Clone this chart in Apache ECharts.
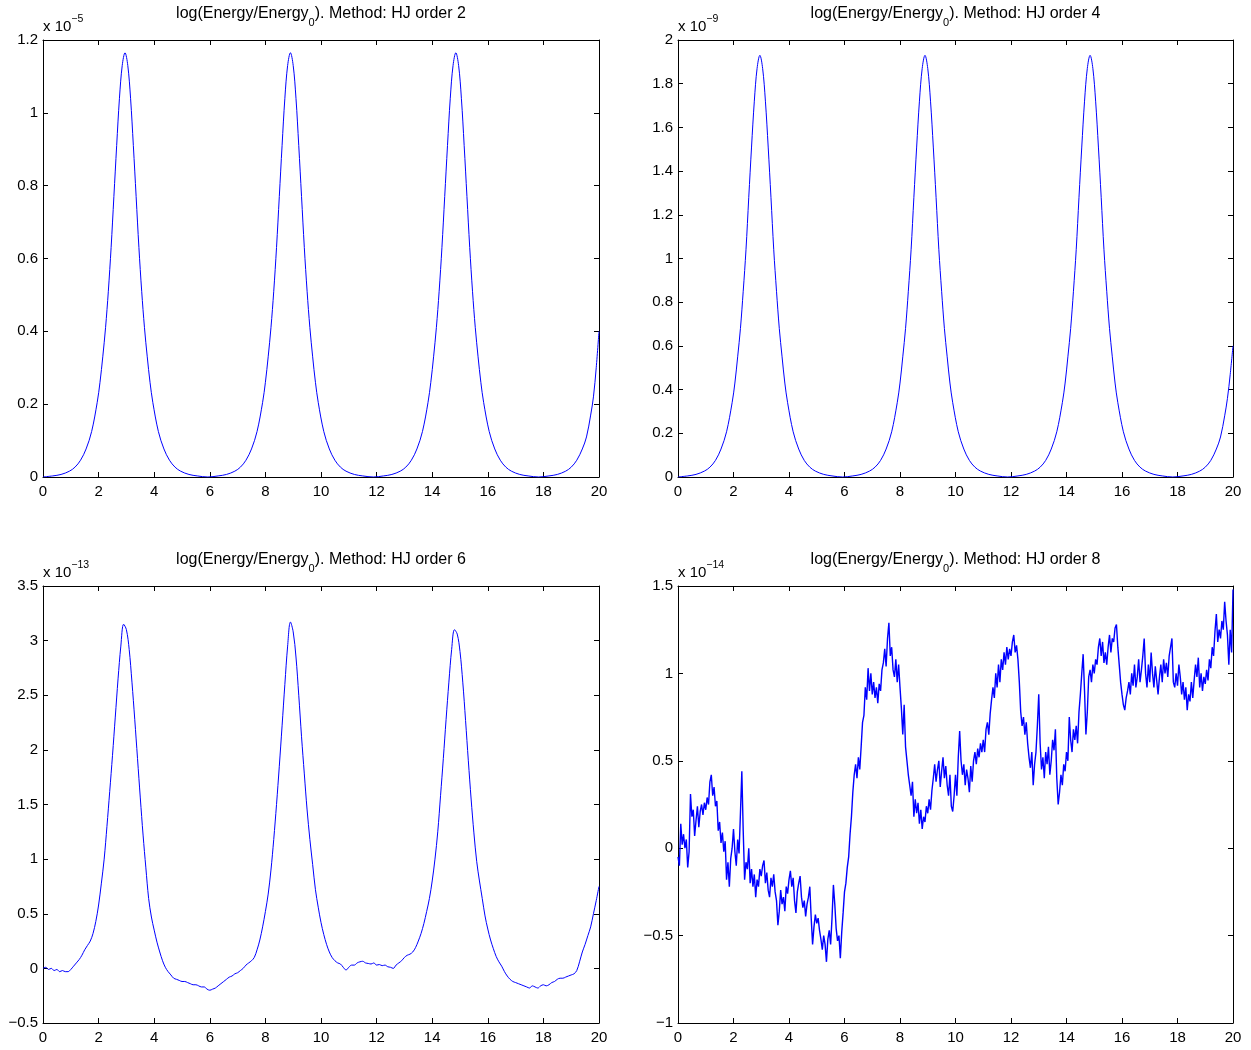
<!DOCTYPE html>
<html><head><meta charset="utf-8">
<script src="https://cdn.jsdelivr.net/npm/echarts@6/dist/echarts.min.js"></script>
<style>html,body{margin:0;padding:0;background:#fff}#c{width:1251px;height:1050px}</style>
</head><body><div id="c"></div>
<script>
// ---------------- DATA ----------------
const methods = ['HJ order 2', 'HJ order 4', 'HJ order 6', 'HJ order 8'];
const exponents = ['\u22125', '\u22129', '\u221213', '\u221214'];
const xRange = [0, 20, 2];
const yRanges = [[0, 1.2, 0.2], [0, 2, 0.2], [-0.5, 3.5, 0.5], [-1, 1.5, 0.5]];

// sample positions for the order-2 and order-4 curves
const peakX = [
  0, 0.35, 0.65, 0.95, 1.15, 1.35, 1.55, 1.75, 1.95, 2.05, 2.15, 2.25, 2.35, 2.45, 2.55, 2.65, 2.75, 2.85, 2.95,
  3.05, 3.15, 3.25, 3.35, 3.45, 3.55, 3.65, 3.75, 3.85, 3.95, 4.15, 4.35, 4.55, 4.75, 4.95, 5.25, 5.55, 5.93,
  6.3, 6.6, 6.9, 7.1, 7.3, 7.5, 7.7, 7.9, 8.0, 8.1, 8.2, 8.3, 8.4, 8.5, 8.6, 8.7, 8.8, 8.9,
  9.0, 9.1, 9.2, 9.3, 9.4, 9.5, 9.6, 9.7, 9.8, 9.9, 10.1, 10.3, 10.5, 10.7, 10.9, 11.2, 11.5, 11.88,
  12.25, 12.55, 12.85, 13.05, 13.25, 13.45, 13.65, 13.85, 13.95, 14.05, 14.15, 14.25, 14.35, 14.45, 14.55, 14.65, 14.75, 14.85,
  14.95, 15.05, 15.15, 15.25, 15.35, 15.45, 15.55, 15.65, 15.75, 15.85, 16.05, 16.25, 16.45, 16.65, 16.85, 17.15, 17.45, 17.83,
  18.2, 18.5, 18.8, 19.0, 19.2, 19.4, 19.55, 19.7, 19.8, 19.9, 20
];
// order 2, units of 1e-5
const order2Y = [
  0, 0.003, 0.007, 0.016, 0.027, 0.046, 0.077, 0.125, 0.205, 0.26, 0.33, 0.41, 0.51, 0.63, 0.77, 0.91, 1.04, 1.13, 1.165,
  1.13, 1.04, 0.91, 0.77, 0.63, 0.51, 0.41, 0.33, 0.26, 0.205, 0.125, 0.077, 0.046, 0.027, 0.016, 0.007, 0.003, 0,
  0.003, 0.007, 0.016, 0.027, 0.046, 0.077, 0.125, 0.205, 0.26, 0.33, 0.41, 0.51, 0.63, 0.77, 0.91, 1.04, 1.13, 1.165,
  1.13, 1.04, 0.91, 0.77, 0.63, 0.51, 0.41, 0.33, 0.26, 0.205, 0.125, 0.077, 0.046, 0.027, 0.016, 0.007, 0.003, 0,
  0.003, 0.007, 0.016, 0.027, 0.046, 0.077, 0.125, 0.205, 0.26, 0.33, 0.41, 0.51, 0.63, 0.77, 0.91, 1.04, 1.13, 1.165,
  1.13, 1.04, 0.91, 0.77, 0.63, 0.51, 0.41, 0.33, 0.26, 0.205, 0.125, 0.077, 0.046, 0.027, 0.016, 0.007, 0.003, 0,
  0.003, 0.007, 0.016, 0.027, 0.046, 0.077, 0.11, 0.17, 0.22, 0.30, 0.40
];
// order 4, units of 1e-9
const order4Y = [
  0, 0.005, 0.012, 0.027, 0.045, 0.076, 0.128, 0.207, 0.34, 0.43, 0.55, 0.68, 0.85, 1.04, 1.28, 1.51, 1.72, 1.87, 1.93,
  1.87, 1.72, 1.51, 1.28, 1.04, 0.85, 0.68, 0.55, 0.43, 0.34, 0.207, 0.128, 0.076, 0.045, 0.027, 0.012, 0.005, 0,
  0.005, 0.012, 0.027, 0.045, 0.076, 0.128, 0.207, 0.34, 0.43, 0.55, 0.68, 0.85, 1.04, 1.28, 1.51, 1.72, 1.87, 1.93,
  1.87, 1.72, 1.51, 1.28, 1.04, 0.85, 0.68, 0.55, 0.43, 0.34, 0.207, 0.128, 0.076, 0.045, 0.027, 0.012, 0.005, 0,
  0.005, 0.012, 0.027, 0.045, 0.076, 0.128, 0.207, 0.34, 0.43, 0.55, 0.68, 0.85, 1.04, 1.28, 1.51, 1.72, 1.87, 1.93,
  1.87, 1.72, 1.51, 1.28, 1.04, 0.85, 0.68, 0.55, 0.43, 0.34, 0.207, 0.128, 0.076, 0.045, 0.027, 0.012, 0.005, 0,
  0.005, 0.012, 0.027, 0.045, 0.076, 0.128, 0.183, 0.28, 0.36, 0.47, 0.60
];
// order 6, units of 1e-13, sampled every 0.1
const order6Step = 0.1;
const order6Y = [
  0.00, 0.01, -0.01, 0.00, -0.02, -0.01, -0.03, -0.02, -0.03, -0.03,
  -0.01, 0.02, 0.05, 0.08, 0.12, 0.17, 0.21, 0.25, 0.32, 0.43,
  0.58, 0.78, 1.00, 1.30, 1.62, 1.95, 2.30, 2.65, 2.95, 3.15,
  3.10, 2.92, 2.62, 2.28, 1.92, 1.56, 1.22, 0.92, 0.64, 0.47,
  0.35, 0.24, 0.15, 0.07, 0.01, -0.03, -0.06, -0.09, -0.10, -0.11,
  -0.12, -0.12, -0.13, -0.14, -0.15, -0.15, -0.16, -0.17, -0.17, -0.19,
  -0.20, -0.19, -0.18, -0.16, -0.14, -0.12, -0.10, -0.08, -0.07, -0.05,
  -0.04, -0.02, 0.00, 0.03, 0.05, 0.07, 0.10, 0.17, 0.26, 0.38,
  0.52, 0.68, 0.90, 1.18, 1.50, 1.85, 2.22, 2.60, 2.95, 3.17,
  3.08, 2.85, 2.50, 2.12, 1.78, 1.45, 1.18, 0.95, 0.72, 0.56,
  0.42, 0.31, 0.22, 0.15, 0.10, 0.07, 0.05, 0.04, 0.01, -0.015,
  0.01, 0.03, 0.03, 0.05, 0.06, 0.065, 0.05, 0.045, 0.04, 0.05,
  0.03, 0.035, 0.025, 0.03, 0.015, 0.01, 0.00, 0.03, 0.05, 0.07,
  0.10, 0.12, 0.13, 0.15, 0.19, 0.25, 0.32, 0.41, 0.52, 0.64,
  0.80, 1.00, 1.25, 1.58, 1.92, 2.28, 2.62, 2.92, 3.10, 3.06,
  2.90, 2.62, 2.27, 1.90, 1.55, 1.24, 0.98, 0.80, 0.64, 0.48,
  0.36, 0.26, 0.18, 0.11, 0.06, 0.02, -0.03, -0.07, -0.10, -0.12,
  -0.13, -0.14, -0.15, -0.16, -0.17, -0.18, -0.16, -0.17, -0.18, -0.16,
  -0.15, -0.16, -0.15, -0.13, -0.12, -0.10, -0.09, -0.09, -0.08, -0.07,
  -0.06, -0.05, -0.02, 0.06, 0.15, 0.22, 0.30, 0.38, 0.50, 0.62,
  0.75
];
// order 8, units of 1e-14, sampled every 0.05
const order8Step = 0.05;
const order8Y = [
  -0.05, -0.10, 0.14, 0.02, 0.08, 0.00, 0.05, -0.11, -0.02, 0.31, 0.18, 0.22, 0.07, 0.16, 0.24, 0.12, 0.21, 0.25, 0.19, 0.26,
  0.22, 0.29, 0.25, 0.38, 0.42, 0.30, 0.35, 0.24, 0.27, 0.10, 0.15, 0.03, 0.09, -0.02, 0.04, -0.18, -0.08, -0.22, -0.06, 0.00,
  0.11, -0.02, -0.10, 0.05, -0.03, 0.20, 0.44, 0.10, -0.18, -0.08, -0.12, 0.00, -0.20, -0.12, -0.22, -0.15, -0.28, -0.18, -0.22, -0.12,
  -0.16, -0.10, -0.07, -0.20, -0.14, -0.24, -0.28, -0.17, -0.22, -0.15, -0.25, -0.30, -0.44, -0.36, -0.24, -0.32, -0.28, -0.36, -0.22, -0.26,
  -0.18, -0.13, -0.22, -0.17, -0.30, -0.37, -0.25, -0.20, -0.16, -0.28, -0.34, -0.30, -0.39, -0.32, -0.28, -0.22, -0.40, -0.55, -0.45, -0.38,
  -0.43, -0.40, -0.47, -0.52, -0.58, -0.50, -0.55, -0.65, -0.52, -0.47, -0.55, -0.40, -0.21, -0.32, -0.46, -0.53, -0.50, -0.63, -0.48, -0.37,
  -0.25, -0.20, -0.11, -0.05, 0.08, 0.18, 0.32, 0.42, 0.48, 0.40, 0.52, 0.45, 0.58, 0.72, 0.76, 0.92, 0.85, 1.03, 0.90, 1.00,
  0.88, 0.95, 0.86, 0.92, 0.83, 0.94, 0.90, 1.02, 1.06, 1.14, 1.04, 1.20, 1.29, 1.10, 1.15, 1.02, 0.98, 1.08, 0.95, 1.05,
  0.92, 0.80, 0.65, 0.82, 0.58, 0.50, 0.42, 0.36, 0.30, 0.38, 0.18, 0.28, 0.20, 0.26, 0.14, 0.22, 0.11, 0.18, 0.15, 0.24,
  0.20, 0.28, 0.22, 0.33, 0.40, 0.48, 0.38, 0.45, 0.50, 0.35, 0.44, 0.52, 0.40, 0.47, 0.36, 0.30, 0.42, 0.24, 0.21, 0.30,
  0.42, 0.30, 0.52, 0.67, 0.50, 0.42, 0.48, 0.36, 0.45, 0.40, 0.32, 0.47, 0.38, 0.50, 0.55, 0.48, 0.57, 0.52, 0.60, 0.55,
  0.62, 0.55, 0.68, 0.72, 0.65, 0.77, 0.85, 0.92, 0.86, 1.00, 0.92, 1.05, 0.95, 1.08, 1.02, 1.12, 1.05, 1.15, 1.08, 1.14,
  1.10, 1.18, 1.22, 1.12, 1.16, 1.08, 0.95, 0.78, 0.70, 0.75, 0.65, 0.72, 0.60, 0.52, 0.46, 0.55, 0.36, 0.48, 0.55, 0.70,
  0.88, 0.60, 0.45, 0.52, 0.40, 0.55, 0.48, 0.58, 0.42, 0.50, 0.62, 0.56, 0.68, 0.40, 0.25, 0.32, 0.42, 0.36, 0.48, 0.44,
  0.55, 0.50, 0.75, 0.62, 0.55, 0.68, 0.62, 0.70, 0.60, 0.78, 0.88, 1.00, 1.11, 0.90, 0.65, 0.78, 0.98, 1.02, 0.95, 1.05,
  1.00, 1.08, 1.05, 1.15, 1.20, 1.10, 1.18, 1.06, 1.12, 1.05, 1.15, 1.22, 1.12, 1.20, 1.18, 1.26, 1.28, 1.15, 1.05, 0.95,
  0.88, 0.82, 0.79, 0.86, 0.90, 0.95, 0.88, 1.00, 0.93, 1.05, 0.92, 0.98, 1.08, 0.95, 1.02, 1.10, 1.20, 1.00, 0.92, 1.05,
  0.95, 1.12, 1.00, 0.92, 1.04, 0.96, 0.88, 0.98, 1.05, 0.95, 1.08, 1.00, 1.06, 0.98, 1.10, 1.15, 1.20, 0.95, 0.92, 1.00,
  0.93, 1.05, 0.98, 0.88, 0.95, 0.85, 0.92, 0.79, 0.88, 0.84, 0.95, 0.86, 0.96, 1.05, 0.98, 1.09, 0.92, 1.00, 0.90, 0.98,
  0.94, 1.02, 0.96, 1.08, 1.03, 1.15, 1.10, 1.24, 1.34, 1.18, 1.25, 1.20, 1.30, 1.25, 1.41, 1.30, 1.22, 1.05, 1.25, 1.12,
  1.48
];

// ---------------- CHART ----------------
const FAM = '"Liberation Sans", Arial, Helvetica, sans-serif';
const grids = [
  { left: 43, top: 40, width: 556, height: 437 },
  { left: 678, top: 40, width: 555, height: 437 },
  { left: 43, top: 586, width: 556, height: 437 },
  { left: 678, top: 586, width: 555, height: 437 }
];
const fmt = v => String(+(+v).toFixed(4)).replace('-', '\u2212');
const tick = { inside: true, length: 5, lineStyle: { color: '#000', width: 1 } };
const line = { show: true, onZero: false, lineStyle: { color: '#000', width: 1 } };
const lbl = { color: '#000', fontSize: 15, fontFamily: FAM, formatter: fmt, showMinLabel: true, showMaxLabel: true };

const xAxis = [], yAxis = [];
grids.forEach((g, i) => {
  const yr = yRanges[i];
  xAxis.push({ type: 'value', gridIndex: i, position: 'bottom', min: xRange[0], max: xRange[1], interval: xRange[2],
    axisLine: line, axisTick: tick, splitLine: { show: false }, axisLabel: Object.assign({ margin: 7 }, lbl) });
  xAxis.push({ type: 'value', gridIndex: i, position: 'top', min: xRange[0], max: xRange[1], interval: xRange[2],
    axisLine: line, axisTick: tick, splitLine: { show: false }, axisLabel: { show: false } });
  yAxis.push({ type: 'value', gridIndex: i, position: 'left', min: yr[0], max: yr[1], interval: yr[2],
    axisLine: line, axisTick: tick, splitLine: { show: false }, axisLabel: Object.assign({ margin: 5 }, lbl) });
  yAxis.push({ type: 'value', gridIndex: i, position: 'right', min: yr[0], max: yr[1], interval: yr[2],
    axisLine: line, axisTick: tick, splitLine: { show: false }, axisLabel: { show: false } });
});

const seriesData = [
  peakX.map((x, k) => [x, order2Y[k]]),
  peakX.map((x, k) => [x, order4Y[k]]),
  order6Y.map((y, k) => [+(k * order6Step).toFixed(2), y]),
  order8Y.map((y, k) => [+(k * order8Step).toFixed(2), y])
];
const series = seriesData.map((d, i) => ({
  type: 'line', xAxisIndex: 2 * i, yAxisIndex: 2 * i, data: d, showSymbol: false, symbol: 'none',
  smooth: i === 3 ? false : 0.35,
  lineStyle: { color: '#0000ff', width: i === 3 ? 1.4 : 1 }, itemStyle: { color: '#0000ff' }, silent: true
}));

const titleFont = '16px ' + FAM, subFont = '11px ' + FAM;
const expFont = '15px ' + FAM, supFont = '10.5px ' + FAM;
const graphic = [];
grids.forEach((g, i) => {
  graphic.push({
    type: 'text', x: g.left + g.width / 2, y: g.top - 26,
    style: {
      text: '{a|log(Energy/Energy}{s|0}{a|). Method: ' + methods[i] + '}',
      font: titleFont, fill: '#000',
      align: 'center', verticalAlign: 'middle',
      rich: {
        a: { font: titleFont, fill: '#000', verticalAlign: 'middle' },
        s: { font: subFont, fill: '#000', lineHeight: 28, verticalAlign: 'bottom' }
      }
    }
  });
  graphic.push({
    type: 'text', x: g.left, y: g.top - 13,
    style: {
      text: '{a|x 10}{s|' + exponents[i] + '}',
      font: expFont, fill: '#000',
      align: 'left', verticalAlign: 'middle',
      rich: {
        a: { font: expFont, fill: '#000', verticalAlign: 'middle' },
        s: { font: supFont, fill: '#000', lineHeight: 27, verticalAlign: 'top' }
      }
    }
  });
});

const chart = echarts.init(document.getElementById('c'), null, { renderer: 'canvas' });
chart.setOption({
  animation: false,
  backgroundColor: '#fff',
  grid: grids.map(g => Object.assign({ containLabel: false }, g)),
  xAxis, yAxis, series, graphic
});
</script></body></html>
